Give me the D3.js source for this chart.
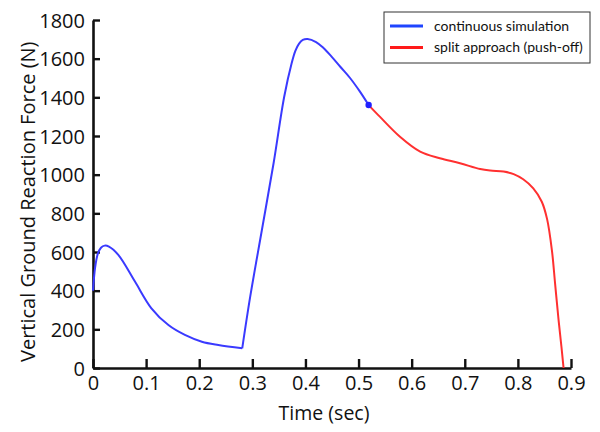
<!DOCTYPE html>
<html>
<head>
<meta charset="utf-8">
<script src="https://cdn.jsdelivr.net/npm/d3@7"></script>
<style>
    body { margin: 0; background: #fff; }
    #chart-area { width: 600px; height: 432px; }
    text { font-family: "Open Sans", sans-serif; fill: #111; }
</style>
</head>
<body>
<div id="chart-area"></div>
<script>
// continuous simulation (blue) - stance up to the split point
let blueTime = [0, 0.004, 0.009, 0.015, 0.022, 0.03, 0.048, 0.079, 0.11, 0.142, 0.173, 0.205, 0.236, 0.281,
    0.296, 0.318, 0.340, 0.360, 0.374, 0.381, 0.388, 0.395, 0.404, 0.420, 0.434, 0.450, 0.466, 0.484, 0.502, 0.519];
let blueForce = [400, 520, 590, 622, 633, 628, 584, 447, 309, 222, 171, 136, 119, 102,
    369, 714, 1059, 1403, 1576, 1640, 1678, 1697, 1702, 1686, 1655, 1608, 1557, 1500, 1432, 1360];

// split approach (push-off) (red)
let redTime = [0.519, 0.540, 0.578, 0.616, 0.653, 0.691, 0.729, 0.748, 0.773, 0.792, 0.810, 0.829, 0.845,
    0.855, 0.864, 0.870, 0.876, 0.882, 0.886];
let redForce = [1360, 1300, 1196, 1119, 1085, 1059, 1029, 1021, 1016, 1003, 976, 929, 860,
    770, 610, 438, 265, 110, 0];

let xTicks = [0, 0.1, 0.2, 0.3, 0.4, 0.5, 0.6, 0.7, 0.8, 0.9];
let yTicks = [0, 200, 400, 600, 800, 1000, 1200, 1400, 1600, 1800];

let legendLabels = ["continuous simulation", "split approach (push-off)"];
let legendColors = ["#1f45ff", "#ff1a1a"];

let margin = { top: 20, right: 29, bottom: 64, left: 93 };
let width = 600 - margin.left - margin.right;
let height = 432 - margin.top - margin.bottom;

let svg = d3.select("#chart-area").append("svg")
    .attr("width", 600)
    .attr("height", 432);

let g = svg.append("g")
    .attr("transform", "translate(" + margin.left + "," + margin.top + ")");

// Scales
let x = d3.scaleLinear().domain([0, 0.9]).range([0, width]);
let y = d3.scaleLinear().domain([0, 1800]).range([height, 0]);

// Axes, ticks pointing inward
let xAxis = d3.axisBottom(x).tickValues(xTicks).tickSizeInner(-9).tickSizeOuter(0)
    .tickFormat(d => d === 0 ? "0" : d3.format(".1f")(d));
let yAxis = d3.axisLeft(y).tickValues(yTicks).tickSizeInner(-7).tickSizeOuter(0)
    .tickFormat(d3.format("d"));

let gx = g.append("g")
    .attr("class", "x-axis")
    .attr("transform", "translate(0," + height + ")")
    .call(xAxis);

let gy = g.append("g")
    .attr("class", "y-axis")
    .call(yAxis);

[gx, gy].forEach(a => {
    a.select(".domain").attr("stroke", "#111").attr("stroke-width", 2.6);
    a.selectAll(".tick line").attr("stroke", "#111").attr("stroke-width", 2.4);
    a.selectAll(".tick text").style("font-size", "20px").attr("fill", "#111");
});
gx.selectAll(".tick text").attr("y", 8).attr("dy", "0.71em");
gy.selectAll(".tick text").attr("x", -8).attr("dy", "0.36em");

// Axis titles
svg.append("text")
    .attr("x", margin.left + x(0.435))
    .attr("y", 420)
    .attr("text-anchor", "middle")
    .style("font-size", "19.5px")
    .text("Time (sec)");

svg.append("text")
    .attr("transform", "translate(35," + (margin.top + y(860)) + ") rotate(-90)")
    .attr("text-anchor", "middle")
    .style("font-size", "20px")
    .text("Vertical Ground Reaction Force (N)");

// Lines
let line = d3.line()
    .x(d => x(d[0]))
    .y(d => y(d[1]))
    .curve(d3.curveCatmullRom.alpha(0.5));

let blueData = blueTime.map((t, i) => [t, blueForce[i]]);
let redData = redTime.map((t, i) => [t, redForce[i]]);

// split the blue series at the heel-strike corner so the kink stays sharp
let corner = blueTime.indexOf(0.281);
[blueData.slice(0, corner + 1), blueData.slice(corner)].forEach(seg => {
    g.append("path")
        .datum(seg)
        .attr("d", line)
        .attr("fill", "none")
        .attr("stroke", "#3a3aff")
        .attr("stroke-width", 2);
});

g.append("path")
    .datum(redData)
    .attr("d", line)
    .attr("fill", "none")
    .attr("stroke", "#ff3030")
    .attr("stroke-width", 2);

// split point marker
let last = blueData[blueData.length - 1];
g.append("circle")
    .attr("cx", x(last[0]))
    .attr("cy", y(last[1]))
    .attr("r", 3.2)
    .attr("fill", "#2020ff");

// Legend
let legend = svg.append("g")
    .attr("transform", "translate(384,12)");

legend.append("rect")
    .attr("width", 206)
    .attr("height", 51)
    .attr("fill", "#fff")
    .attr("stroke", "#333")
    .attr("stroke-width", 1);

legendLabels.forEach((label, i) => {
    let row = legend.append("g").attr("transform", "translate(0," + (14 + i * 21.5) + ")");
    row.append("line")
        .attr("x1", 6).attr("x2", 39)
        .attr("stroke", legendColors[i])
        .attr("stroke-width", 3);
    row.append("text")
        .attr("x", 50)
        .attr("dy", "0.35em")
        .style("font-family", "Lato, sans-serif")
        .style("font-size", "14px")
        .text(label);
});
</script>
</body>
</html>
